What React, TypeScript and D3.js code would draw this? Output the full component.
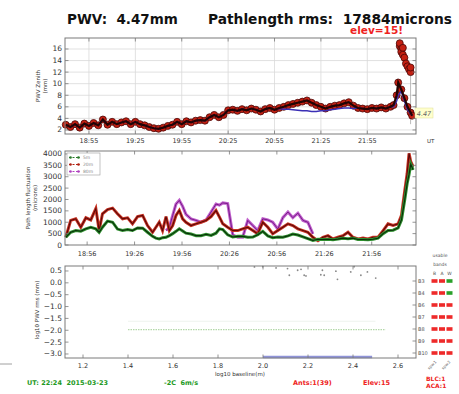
import React from 'react';
import * as d3 from 'd3';

// ---------- Panel 1: PWV zenith (mm) ----------
const pwvTimes = ["18:40","18:43","18:46","18:49","18:52","18:55","18:58","19:01","19:04","19:07","19:10","19:13","19:16","19:19","19:22","19:25","19:28","19:31","19:34","19:37","19:40","19:43","19:46","19:49","19:52","19:55","19:58","20:01","20:04","20:07","20:10","20:13","20:16","20:19","20:22","20:25","20:28","20:31","20:34","20:37","20:40","20:43","20:46","20:49","20:52","20:55","20:58","21:01","21:04","21:07","21:10","21:13","21:16","21:19","21:22","21:25","21:28","21:31","21:34","21:37","21:40","21:43","21:46","21:49","21:52","21:55","21:58","22:01","22:04","22:07","22:10","22:12","22:14","22:15","22:17","22:19","22:21","22:23","22:24"];
const pwvMain = [2.9,2.5,3.0,2.4,3.1,2.7,3.2,2.8,3.8,2.9,3.4,3.0,3.3,3.5,3.0,3.4,3.0,2.8,2.5,2.3,2.2,2.4,2.7,2.9,3.4,3.0,3.5,3.3,3.6,3.7,3.6,4.2,4.6,4.2,4.6,5.4,5.5,5.3,5.6,5.4,5.7,5.5,5.2,5.6,5.8,5.5,5.8,6.0,6.3,6.5,6.7,6.9,7.1,6.7,6.3,6.0,5.7,6.0,6.2,6.3,6.6,6.8,6.2,5.8,5.7,5.6,5.8,5.7,5.9,5.7,6.0,6.3,8.0,10.2,9.0,7.5,6.0,5.0,4.47];
const pwvBlue = [2.9,2.5,3.0,2.4,3.1,2.7,3.2,2.8,3.8,2.9,3.4,3.0,3.3,3.5,3.0,3.4,3.0,2.8,2.5,2.3,2.2,2.4,2.7,2.9,3.4,3.0,3.5,3.3,3.6,3.7,3.6,4.2,4.6,4.2,4.6,5.4,5.5,5.3,5.6,5.4,5.7,5.5,5.2,5.6,5.8,5.5,5.7,5.6,5.6,5.5,5.4,5.3,5.3,5.2,5.2,5.3,5.3,5.5,5.6,5.7,5.8,5.8,5.7,5.8,5.7,5.6,5.8,5.7,5.9,5.7,6.0,6.0,7.0,8.0,8.7,7.0,5.5,4.8,4.47];
const pwvHighTimes = ["22:16","22:16","22:17","22:17","22:18","22:18","22:19","22:20","22:21","22:22","22:23","22:23"];
const pwvHighValues = [16.5,17.0,16.0,15.5,16.2,15.0,14.5,13.5,13.0,12.5,12.0,12.8];
const pwvErrTime = "22:23";
const pwvErrRange = [3.0, 13.0];
const pwvXTicks = ["18:55","19:25","19:55","20:25","20:55","21:25","21:55"];
const pwvYTicks = [2,4,6,8,10,12,14,16];
const pwvLatest = "4.47";

// ---------- Panel 2: path length fluctuation (microns) ----------
// minutes after 18:00 UT
const pathMinutes = [42.5,45.6,48.8,52.0,55.2,58.3,61.5,63.6,65.7,68.9,72.1,75.2,78.4,81.6,84.7,87.9,91.1,94.2,97.4,99.5,101.6,103.7,105.9,108.0,110.1,112.2,114.3,116.4,118.5,121.7,124.9,128.0,131.2,134.4,137.5,139.7,141.8,144.9,148.1,151.3,154.4,157.6,160.8,163.9,167.1,170.3,173.4,176.6,179.8,183.0,186.1,189.3,192.5,195.6,198.8,202.0,205.1,208.3,211.5,214.6,217.8,221.0,224.1,227.3,230.5,233.6,236.8,240.0,243.2,246.3,249.5,252.7,254.8,256.9,258.4,259.6,260.7,262.2];
const path20m = [340,1080,1150,780,1195,1100,1600,635,1370,1560,1620,1370,1150,1195,930,1250,1300,855,560,780,1000,635,1250,635,855,1300,1520,1150,1000,855,930,1000,1080,1250,1520,1225,930,780,635,635,710,780,635,490,1000,780,490,635,780,930,855,710,635,560,340,190,340,410,265,340,410,560,340,265,310,265,340,340,635,930,855,930,1300,2400,3140,4030,3660,3440];
const path5m = [340,560,635,605,710,780,710,560,780,1050,1000,700,635,680,635,750,740,560,380,300,265,320,340,410,500,600,710,620,520,480,410,410,470,420,520,710,680,450,350,380,380,340,350,450,600,400,320,350,340,400,480,440,360,280,200,250,240,250,230,260,300,270,300,240,240,230,250,300,500,635,650,750,1100,2000,2700,3100,3550,3300];
const path80m = [null,null,null,null,null,null,null,null,null,null,null,null,null,null,null,null,null,null,null,null,null,null,635,780,1300,1800,1960,1700,1350,1150,1080,1000,1100,1450,1800,1750,1850,1820,450,340,340,1080,855,635,1150,1100,1000,700,1200,1450,1200,1400,1080,1000,490,null,null,null,null,null,null,null,null,null,null,null,null,null,null,null,null,null,null,null,null,null,null,null];
const pathXTicks = ["18:56","19:26","19:56","20:26","20:56","21:26","21:56"];
const pathYTicks = [0,500,1000,1500,2000,2500,3000,3500,4000];
const pathLegend = ["5m","20m","80m"];

// ---------- Panel 3: log10 PWV rms vs log10 baseline ----------
const rmsScatterX = [1.962,1.999,2.058,2.109,2.117,2.154,2.169,2.183,2.191,2.257,2.272,2.264,2.324,2.331,2.39,2.405,2.435,2.464,2.501];
const rmsScatterY = [0.67,0.68,0.63,0.60,0.32,0.53,0.57,0.32,0.29,0.34,0.32,0.53,0.49,0.15,0.46,0.68,0.32,0.46,0.20];
const thresholdX = [1.4, 2.545];
const thresholdY = -1.97;
const faintX = [1.4, 2.5];
const faintY = -1.62;
const floorX = [2.0, 2.485];
const floorY = -3.13;
const baselineTicks = [1.2,1.4,1.6,1.8,2.0,2.2,2.4,2.6];
const rmsTicks = [0.5,0.0,-0.5,-1.0,-1.5,-2.0,-2.5,-3.0];
const bands = ["B3","B4","B6","B7","B8","B9","B10"];
const bandCols = ["B","A","W"];
const bandOk = [[0,0,1],[0,0,1],[0,0,0],[0,0,0],[0,0,0],[0,0,0],[0,0,0]];
const bandFoot = ["spw1","spw2"];

// ---------- Footer ----------
const footUT = "UT: 22:24  2015-03-23";
const footWeather = "-2C  6m/s";
const footAnts = "Ants:1(39)";
const footElev = "Elev:15";
const footBLC = "BLC:1";
const footACA = "ACA:1";

const FONT = "DejaVu Sans, sans-serif";
const AX = "#7a7a7a";
const TXT = "#333";

const toMin = (s: string) => {
  const [h, m] = s.split(":").map(Number);
  return (h - 18) * 60 + m;
};

export default function App() {
  const L = 65, R = 416;
  const p1 = { top: 38, bottom: 134 };
  const p2 = { top: 151, bottom: 245 };
  const p3 = { top: 266, bottom: 358 };

  const x1 = d3.scaleLinear().domain([39.5, 266.5]).range([L, R]);
  const y1 = d3.scaleLinear().domain([1.3, 17.9]).range([p1.bottom, p1.top]);
  const x2 = d3.scaleLinear().domain([42, 264]).range([L, R]);
  const y2 = d3.scaleLinear().domain([0, 4130]).range([p2.bottom, p2.top]);
  const x3 = d3.scaleLinear().domain([1.12, 2.68]).range([L, R]);
  const y3 = d3.scaleLinear().domain([-3.17, 0.71]).range([p3.bottom, p3.top]);
  const yb = d3.scalePoint<string>().domain(bands).range([281, 353]);
  const xb = d3.scalePoint<string>().domain(bandCols).range([434.5, 449.5]);

  const mainPts = pwvTimes.map((t, i) => [toMin(t), pwvMain[i]] as [number, number]);
  const bluePts = pwvTimes.map((t, i) => [toMin(t), pwvBlue[i]] as [number, number]);
  const line1 = d3.line<[number, number]>().x(d => x1(d[0])).y(d => y1(d[1]));

  const line2 = d3.line<[number, number | null]>()
    .defined(d => d[1] != null)
    .x(d => x2(d[0]))
    .y(d => y2(d[1] as number));
  const s5 = pathMinutes.map((t, i) => [t, path5m[i]] as [number, number | null]);
  const s20 = pathMinutes.map((t, i) => [t, path20m[i]] as [number, number | null]);
  const s80 = pathMinutes.map((t, i) => [t, path80m[i]] as [number, number | null]);

  const frame = (top: number, bottom: number) => (
    <rect x={L} y={top} width={R - L} height={bottom - top} fill="none" stroke={AX} strokeWidth={1} />
  );

  const xTickMarks = (xs: number[], top: number, bottom: number) =>
    xs.map((px, i) => (
      <g key={"xt" + i} stroke={AX} strokeWidth={0.8}>
        <line x1={px} x2={px} y1={bottom} y2={bottom - 3.5} />
        <line x1={px} x2={px} y1={top} y2={top + 3.5} />
      </g>
    ));
  const yTickMarks = (ys: number[], right = true) =>
    ys.map((py, i) => (
      <g key={"yt" + i} stroke={AX} strokeWidth={0.8}>
        <line x1={L} x2={L + 3.5} y1={py} y2={py} />
        {right && <line x1={R} x2={R - 3.5} y1={py} y2={py} />}
      </g>
    ));

  const fmtNeg = (v: number) => (v < 0 ? "\u2212" + Math.abs(v).toFixed(1) : v.toFixed(1));

  return (
    <svg width={459} height={394} style={{ position: "absolute", left: 0, top: 0, background: "#fff" }} fontFamily={FONT}>
      {/* Titles */}
      <text x={67} y={23.5} fontSize={13.5} fontWeight="bold" fill="#111" style={{ whiteSpace: "pre" }}>{"PWV:  " + pwvLatest + "mm"}</text>
      <text x={208} y={23.5} fontSize={13.5} fontWeight="bold" fill="#111" style={{ whiteSpace: "pre" }} textLength={244} lengthAdjust="spacingAndGlyphs">{"Pathlength rms:  17884microns"}</text>
      <text x={350} y={34} fontSize={9.8} fontWeight="bold" fill="#ee2222" textLength={53} lengthAdjust="spacingAndGlyphs">elev=15!</text>

      {/* ---------- Panel 1 ---------- */}
      <g>
        {pwvXTicks.map((t, i) => (
          <line key={"g1x" + i} x1={x1(toMin(t))} x2={x1(toMin(t))} y1={p1.top} y2={p1.bottom} stroke="#d9d9d9" strokeWidth={0.8} />
        ))}
        {pwvYTicks.map((v, i) => (
          <line key={"g1y" + i} x1={L} x2={R} y1={y1(v)} y2={y1(v)} stroke="#d9d9d9" strokeWidth={0.8} />
        ))}
        <line x1={x1(toMin(pwvErrTime))} x2={x1(toMin(pwvErrTime))} y1={y1(pwvErrRange[0])} y2={y1(pwvErrRange[1])} stroke="#aaa" strokeWidth={0.8} />
        {mainPts.map((d, i) => (
          <circle key={"c" + i} cx={x1(d[0])} cy={y1(d[1])} r={3.5} fill="#c42012" stroke="#4a0808" strokeWidth={0.8} />
        ))}
        {pwvHighTimes.map((t, i) => (
          <circle key={"h" + i} cx={x1(toMin(t))} cy={y1(pwvHighValues[i])} r={3.5} fill="#c42012" stroke="#4a0808" strokeWidth={0.8} />
        ))}
        <path d={line1(bluePts) || ""} fill="none" stroke="#3b2fb5" strokeWidth={1.5} />
        <path d={line1(mainPts) || ""} fill="none" stroke="#220404" strokeWidth={2.2} />
        {frame(p1.top, p1.bottom)}
        {xTickMarks(pwvXTicks.map(t => x1(toMin(t))), p1.top, p1.bottom)}
        {yTickMarks(pwvYTicks.map(v => y1(v)))}
        {pwvXTicks.map((t, i) => (
          <text key={"l1x" + i} x={x1(toMin(t))} y={143} fontSize={6.5} fill={TXT} textAnchor="middle">{t}</text>
        ))}
        {pwvYTicks.map((v, i) => (
          <text key={"l1y" + i} x={L - 3} y={y1(v)} fontSize={7.5} fill={TXT} textAnchor="end" dominantBaseline="central">{v}</text>
        ))}
        <text x={427} y={143} fontSize={5.5} fill={TXT}>UT</text>
        <g transform={`translate(40,86) rotate(-90)`}>
          <text x={0} y={0} fontSize={5.5} fill={TXT} textAnchor="middle">PWV Zenith</text>
          <text x={0} y={7} fontSize={5.5} fill={TXT} textAnchor="middle">(mm)</text>
        </g>
        <rect x={415} y={108} width={18} height={10} fill="#ffffcc" stroke="#dddd99" strokeWidth={0.5} />
        <text x={424} y={113.5} fontSize={6.5} fill="#666" fontStyle="italic" textAnchor="middle" dominantBaseline="central">{pwvLatest}</text>
      </g>

      {/* ---------- Panel 2 ---------- */}
      <g>
        <path d={line2(s80) || ""} fill="none" stroke="#c060cc" strokeWidth={3} />
        <path d={line2(s80) || ""} fill="none" stroke="#7a1a8a" strokeWidth={1} />
        <path d={line2(s20) || ""} fill="none" stroke="#c83222" strokeWidth={3} />
        <path d={line2(s20) || ""} fill="none" stroke="#5a0808" strokeWidth={1.1} />
        <path d={line2(s5) || ""} fill="none" stroke="#2f8f2f" strokeWidth={3} />
        <path d={line2(s5) || ""} fill="none" stroke="#082e08" strokeWidth={1.1} />
        {frame(p2.top, p2.bottom)}
        {xTickMarks(pathXTicks.map(t => x2(toMin(t))), p2.top, p2.bottom)}
        {yTickMarks(pathYTicks.map(v => y2(v)))}
        {pathXTicks.map((t, i) => (
          <text key={"l2x" + i} x={x2(toMin(t))} y={256} fontSize={6.5} fill={TXT} textAnchor="middle">{t}</text>
        ))}
        {pathYTicks.map((v, i) => (
          <text key={"l2y" + i} x={L - 3} y={y2(v)} fontSize={7.5} fill={TXT} textAnchor="end" dominantBaseline="central">{v}</text>
        ))}
        <g transform={`translate(30,198) rotate(-90)`}>
          <text x={0} y={0} fontSize={5.5} fill={TXT} textAnchor="middle">Path length fluctuation</text>
          <text x={0} y={7} fontSize={5.5} fill={TXT} textAnchor="middle">(microns)</text>
        </g>
        <rect x={67} y={153} width={33} height={22} fill="#fff" stroke="#999" strokeWidth={0.6} />
        {pathLegend.map((lab, i) => {
          const col = ["#2a7a2a", "#b02010", "#b040c0"][i];
          const yy = 157.5 + i * 7;
          return (
            <g key={"lg" + i}>
              <line x1={69} x2={80} y1={yy} y2={yy} stroke={col} strokeWidth={1.2} strokeDasharray="2,1.5" />
              <circle cx={70.5} cy={yy} r={1.3} fill={col} />
              <circle cx={78.5} cy={yy} r={1.3} fill={col} />
              <text x={83} y={yy} fontSize={4.5} fill="#888" dominantBaseline="central">{lab}</text>
            </g>
          );
        })}
      </g>

      {/* ---------- Panel 3 ---------- */}
      <g>
        <line x1={x3(faintX[0])} x2={x3(faintX[1])} y1={y3(faintY)} y2={y3(faintY)} stroke="#eef3ee" strokeWidth={1} />
        <line x1={x3(thresholdX[0])} x2={x3(thresholdX[1])} y1={y3(thresholdY)} y2={y3(thresholdY)} stroke="#b4d8aa" strokeWidth={1.2} strokeDasharray="1.5,1" />
        <line x1={x3(floorX[0])} x2={x3(floorX[1])} y1={y3(floorY)} y2={y3(floorY)} stroke="#8f93d8" strokeWidth={2.5} />
        {rmsScatterX.map((v, i) => (
          <circle key={"s" + i} cx={x3(v)} cy={y3(rmsScatterY[i])} r={0.9} fill="#888" />
        ))}
        {frame(p3.top, p3.bottom)}
        {xTickMarks(baselineTicks.map(v => x3(v)), p3.top, p3.bottom)}
        {yTickMarks(rmsTicks.map(v => y3(v)), false)}
        {bands.map((b, i) => (
          <g key={"bt" + i}>
            <line x1={R} x2={R - 3.5} y1={yb(b)} y2={yb(b)} stroke={AX} strokeWidth={0.8} />
            <text x={R + 2} y={yb(b)} fontSize={5} fill="#555" dominantBaseline="central">{b}</text>
          </g>
        ))}
        {baselineTicks.map((v, i) => (
          <text key={"l3x" + i} x={x3(v)} y={367.5} fontSize={6.5} fill={TXT} textAnchor="middle">{v.toFixed(1)}</text>
        ))}
        {rmsTicks.map((v, i) => (
          <text key={"l3y" + i} x={L - 3} y={y3(v)} fontSize={7.5} fill={TXT} textAnchor="end" dominantBaseline="central">{fmtNeg(v)}</text>
        ))}
        <text x={240} y={375.5} fontSize={5.5} fill={TXT} textAnchor="middle">log10 baseline(m)</text>
        <g transform={`translate(39,310) rotate(-90)`}>
          <text x={0} y={0} fontSize={5.5} fill={TXT} textAnchor="middle">log10 PWV rms (mm)</text>
        </g>
        {/* usable bands */}
        <text x={440} y={257} fontSize={4.5} fill="#555" textAnchor="middle">usable</text>
        <text x={440} y={266} fontSize={4.5} fill="#555" textAnchor="middle">bands</text>
        {bandCols.map((c, i) => (
          <text key={"bc" + i} x={xb(c)} y={275} fontSize={4.5} fill="#555" textAnchor="middle">{c}</text>
        ))}
        {bands.map((b, i) =>
          bandCols.map((c, j) => (
            <rect key={"bs" + i + j} x={(xb(c) as number) - 3} y={(yb(b) as number) - 1.8} width={6} height={3.6}
              fill={bandOk[i][j] ? "#2aa02a" : "#ee2a2a"} />
          ))
        )}
        {bandFoot.map((t, i) => (
          <text key={"bf" + i} transform={`translate(${433 + i * 14},366) rotate(-45)`} fontSize={4} fill="#666" textAnchor="middle">{t}</text>
        ))}
      </g>

      {/* ---------- Footer ---------- */}
      <line x1={0} x2={12} y1={364} y2={364} stroke="#888" strokeWidth={0.8} />
      <text x={27} y={384.5} fontSize={6.5} fontWeight="bold" fill="#229922" style={{ whiteSpace: "pre" }}>{footUT}</text>
      <text x={164} y={384.5} fontSize={6.5} fontWeight="bold" fill="#229922" style={{ whiteSpace: "pre" }}>{footWeather}</text>
      <text x={293} y={384.5} fontSize={6.5} fontWeight="bold" fill="#ee2222">{footAnts}</text>
      <text x={363} y={384.5} fontSize={6.5} fontWeight="bold" fill="#ee2222">{footElev}</text>
      <text x={426} y={380.5} fontSize={6} fontWeight="bold" fill="#ee2222">{footBLC}</text>
      <text x={426} y={387.5} fontSize={6} fontWeight="bold" fill="#ee2222">{footACA}</text>
    </svg>
  );
}
